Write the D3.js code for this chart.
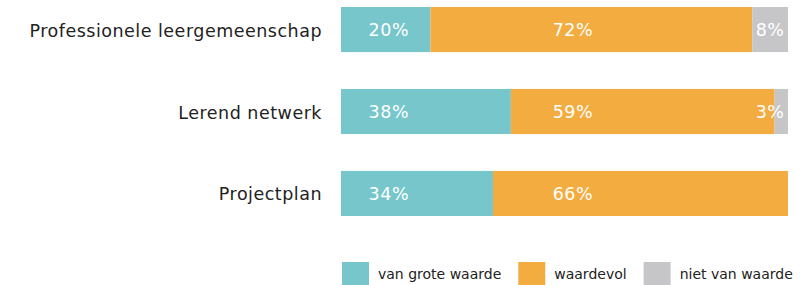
<!DOCTYPE html>
<html>
<head>
<meta charset="utf-8">
<script src="https://cdn.jsdelivr.net/npm/d3@7"></script>
<style>
  body { margin: 0; background: #fff; }
  text { font-family: "DejaVu Sans", sans-serif; }
</style>
</head>
<body>
<svg width="801" height="285"></svg>
<script>
const categories = ["Professionele leergemeenschap", "Lerend netwerk", "Projectplan"];
const seriesNames = ["van grote waarde", "waardevol", "niet van waarde"];
const grote = [20, 38, 34];
const waardevol = [72, 59, 66];
const niet = [8, 3, 0];
const colors = ["#77c6cc", "#f3ac3f", "#c6c6c8"];
// labels sit in fixed columns, not centered in segments
const labelCols = [10.7, 51.9, 96];

const svg = d3.select("svg"),
      left = 341,
      right = 788;

const x = d3.scaleLinear().domain([0, 100]).range([left, right]);
const y = d3.scaleBand().domain(categories).range([7, 216]).paddingInner(0.45).paddingOuter(0);

const rows = categories.map((c, i) => {
  const vals = [grote[i], waardevol[i], niet[i]];
  let acc = 0;
  return vals.map((v, k) => {
    const seg = { cat: c, k: k, v: v, x0: acc, x1: acc + v };
    acc += v;
    return seg;
  });
});

const g = svg.append("g");

g.selectAll(".row")
  .data(rows)
  .enter().append("g")
  .attr("class", "row")
  .selectAll("rect")
  .data(d => d.filter(s => s.v > 0))
  .enter().append("rect")
  .attr("x", d => x(d.x0))
  .attr("y", d => y(d.cat))
  .attr("width", d => x(d.x1) - x(d.x0))
  .attr("height", y.bandwidth())
  .attr("fill", d => colors[d.k]);

g.selectAll(".vlab")
  .data(rows.flat().filter(s => s.v > 0))
  .enter().append("text")
  .attr("class", "vlab")
  .attr("x", d => x(labelCols[d.k]))
  .attr("y", d => y(d.cat) + y.bandwidth() / 2)
  .attr("dy", "0.36em")
  .attr("text-anchor", "middle")
  .attr("fill", "#fff")
  .style("font-size", "17.5px")
  .style("letter-spacing", "0.6px")
  .text(d => d.v + "%");

const yAxis = g.append("g")
  .attr("transform", "translate(" + (left - 19) + ",0)")
  .call(d3.axisLeft(y).tickSize(0).tickPadding(0));
yAxis.select(".domain").remove();
yAxis.selectAll("text")
  .attr("fill", "#222")
  .style("font-family", "DejaVu Sans, sans-serif")
  .style("font-size", "17.5px")
  .style("letter-spacing", "0.5px")
  .attr("dy", "0.4em");

// legend
const leg = svg.append("g").attr("transform", "translate(0,262)");
let lx = 342;
seriesNames.forEach((name, i) => {
  leg.append("rect")
    .attr("x", lx).attr("y", 0)
    .attr("width", 27).attr("height", 24)
    .attr("fill", colors[i]);
  const t = leg.append("text")
    .attr("x", lx + 36).attr("y", 17)
    .attr("fill", "#222")
    .style("font-size", "14px")
    .text(name);
  lx += 36 + t.node().getComputedTextLength() + 17;
});
</script>
</body>
</html>
